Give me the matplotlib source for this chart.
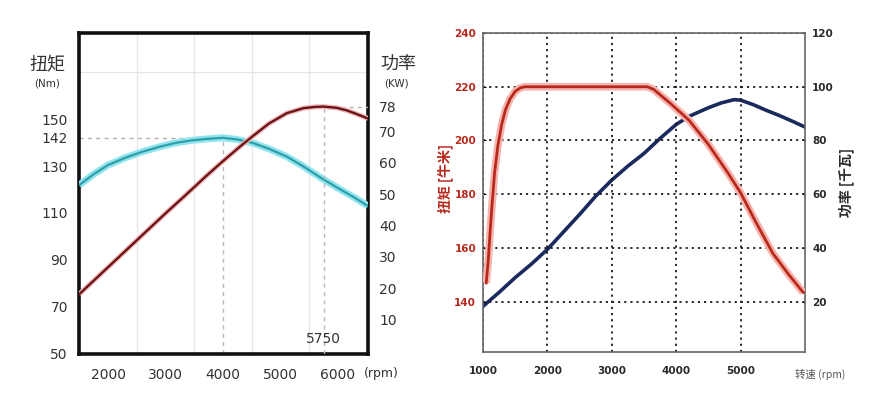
import numpy as np
import matplotlib.pyplot as plt
from matplotlib.ticker import MultipleLocator

plt.rcParams['font.family'] = ['DejaVu Sans', 'Noto Sans CJK SC']

# ---- left chart data (rpm, Nm / kW)
rpm_l = [1500, 1750, 2000, 2300, 2590, 2900, 3170, 3450, 3750, 4000, 4250,
         4520, 4800, 5110, 5400, 5700, 6000, 6270, 6520]
torque_l = [121.9, 126.5, 130.4, 133.5, 136.0, 138.2, 139.8, 140.9, 141.6, 142.0, 141.3,
            139.8, 137.3, 134.0, 129.8, 125.0, 120.6, 116.8, 113.0]
rpm_lp = [1500, 2000, 2500, 3000, 3330, 3700, 3950, 4300, 4520, 4800, 5110,
          5400, 5600, 5750, 5980, 6150, 6300, 6520]
power_l = [18.1, 26.7, 35.3, 43.9, 49.4, 55.7, 59.8, 65.3, 68.6, 72.6, 75.9,
           77.5, 77.9, 78.0, 77.6, 76.8, 75.8, 74.2]
torque_ticks_l = [50, 70, 90, 110, 130, 142, 150]
power_ticks_l = [10, 20, 30, 40, 50, 60, 70, 78]
rpm_ticks_l = [2000, 3000, 4000, 5000, 6000]
peak_torque = (4000, 142)
peak_power = (5750, 78)

# ---- right chart data
rpm_rt = [1050, 1080, 1110, 1140, 1180, 1230, 1290, 1350, 1420, 1500, 1580, 1650,
          2000, 3000, 3550, 3650, 3750, 3900, 4200, 4500, 4800, 5000, 5250,
          5500, 5750, 5970]
torque_r = [147, 155, 166, 176, 188, 198, 206, 211.5, 215.5, 218.3, 219.6, 220,
            220, 220, 220, 219, 217, 214, 207.5, 198.5, 188, 180.5, 169,
            158, 150, 143.5]
rpm_rp = [1000, 1250, 1500, 1750, 2000, 2250, 2500, 2750, 3000, 3250, 3500, 3750,
          4000, 4200, 4500, 4700, 4900, 5000, 5200, 5400, 5600, 5800, 6000]
power_r = [18.3, 23.5, 29.0, 34.0, 39.5, 46.0, 52.5, 59.3, 65.3, 70.5, 75.2, 80.8,
           86.0, 89.0, 92.2, 94.0, 95.2, 95.0, 93.3, 91.2, 89.3, 87.2, 85.0]
torque_ticks_r = [140, 160, 180, 200, 220, 240]
power_ticks_r = [20, 40, 60, 80, 100, 120]
rpm_ticks_r = [1000, 2000, 3000, 4000, 5000]

fig = plt.figure(figsize=(8.84, 3.99), dpi=100)
fig.patch.set_facecolor('white')
txt = '#333333'

# ================= left chart =================
ax = fig.add_axes([0.0894, 0.1128, 0.3269, 0.8045])
ax.set_xlim(1496, 6522)
ax.set_ylim(50, 186.6)
ax.set_xticks(rpm_ticks_l)
ax.set_yticks(torque_ticks_l)
ax.xaxis.set_minor_locator(MultipleLocator(500))
ax.set_yticks([70, 90, 110, 130, 150, 170], minor=True)
ax.grid(True, which='minor', color='#e6e6e6', lw=0.9)
ax.tick_params(which='both', length=0)
ax.tick_params(axis='x', pad=10, labelsize=10, labelcolor=txt)
ax.tick_params(axis='y', pad=8, labelsize=10, labelcolor=txt)
for s in ax.spines.values():
    s.set_linewidth(2.6)
    s.set_color('#111111')

ax2 = ax.twinx()
ax2.set_ylim(-1.0, 101.5)
ax2.set_yticks(power_ticks_l)
ax2.set_yticks([10, 20, 40, 50, 70], minor=True)
ax2.tick_params(which='major', length=0, pad=8, labelsize=10, labelcolor=txt)
ax2.tick_params(which='minor', direction='in', length=9, width=1.4, color='#111111')
for s in ax2.spines.values():
    s.set_visible(False)

# dashed guides
ax.plot([1496, peak_torque[0]], [peak_torque[1]] * 2, color='#b8b0b0', lw=1, ls=(0, (3, 3)))
ax.plot([peak_torque[0]] * 2, [50, peak_torque[1]], color='#b8b8b8', lw=1, ls=(0, (3, 3)))
ax2.plot([peak_power[0], 6522], [peak_power[1]] * 2, color='#b8b8b8', lw=1, ls=(0, (3, 3)))
ax2.plot([peak_power[0]] * 2, [-1, peak_power[1]], color='#b8b8b8', lw=1, ls=(0, (3, 3)))

ax.plot(rpm_l, torque_l, color='#8fe4f0', lw=5, solid_capstyle='butt', zorder=3)
ax.plot(rpm_l, torque_l, color='#2f9ea6', lw=1.6, zorder=4)
ax2.plot(rpm_lp, power_l, color='#f2b8b8', lw=3.6, solid_capstyle='butt', zorder=3)
ax2.plot(rpm_lp, power_l, color='#6a1518', lw=1.7, zorder=4)

ax2.text(peak_power[0], 1.5, '5750', ha='center', va='bottom', fontsize=10, color=txt)

cjk = ['Noto Sans CJK SC', 'DejaVu Sans']
fig.text(47 / 884, 1 - 65 / 399, '扭矩', ha='center', va='center', fontsize=13, color=txt, family=cjk)
fig.text(47 / 884, 1 - 83 / 399, '(Nm)', ha='center', va='center', fontsize=7.5, color=txt)
fig.text(398 / 884, 1 - 65 / 399, '功率', ha='center', va='center', fontsize=13, color=txt, family=cjk)
fig.text(396 / 884, 1 - 84 / 399, '(KW)', ha='center', va='center', fontsize=7.5, color=txt)
fig.text(381 / 884, 1 - 374 / 399, '(rpm)', ha='center', va='center', fontsize=9, color=txt)

# ================= right chart =================
red = '#b8291c'
bx = fig.add_axes([0.5464, 0.1178, 0.3643, 0.7995])
bx.set_xlim(1000, 6000)
bx.set_ylim(121.3, 240)
bx.set_xticks(rpm_ticks_r)
bx.set_yticks(torque_ticks_r)
bx.grid(True, color='#1a1a1a', lw=1.3, ls=(0, (1.2, 2.2)))
bx.tick_params(axis='x', length=0, pad=10, labelsize=7.5, labelcolor='#2a2a2a')
bx.tick_params(axis='y', direction='in', length=2, pad=5, labelsize=7.5, labelcolor=red)
for lab in bx.get_xticklabels() + bx.get_yticklabels():
    lab.set_fontweight('bold')
for s in bx.spines.values():
    s.set_linewidth(1.2)
    s.set_color('#666666')

bx2 = bx.twinx()
bx2.set_ylim(1.3, 120)
bx2.set_yticks(power_ticks_r)
bx2.tick_params(direction='in', length=2, pad=5, labelsize=7.5, labelcolor='#2a2a2a')
for lab in bx2.get_yticklabels():
    lab.set_fontweight('bold')
for s in bx2.spines.values():
    s.set_visible(False)

bx2.plot(rpm_rp, power_r, color='#1b2a5c', lw=2.6, zorder=3)
bx.plot(rpm_rt, torque_r, color='#f6b4ae', lw=5.5, solid_capstyle='butt', zorder=4)
bx.plot(rpm_rt, torque_r, color=red, lw=2.0, zorder=5)
bx.set_zorder(bx2.get_zorder() + 1)
bx.patch.set_visible(False)

fig.text(445 / 884, 1 - 178 / 399, '扭矩 [牛米]', rotation=90, ha='center', va='center',
         fontsize=10, color=red, fontweight='bold', family=cjk)
fig.text(846 / 884, 1 - 182 / 399, '功率 [千瓦]', rotation=90, ha='center', va='center',
         fontsize=10, color='#2a2a2a', fontweight='bold', family=cjk)
fig.text(795 / 884, 1 - 374 / 399, '转速 (rpm)', ha='left', va='center',
         fontsize=7.5, color='#555555', family=cjk)

fig.savefig('out.png', dpi=100, facecolor='white')
